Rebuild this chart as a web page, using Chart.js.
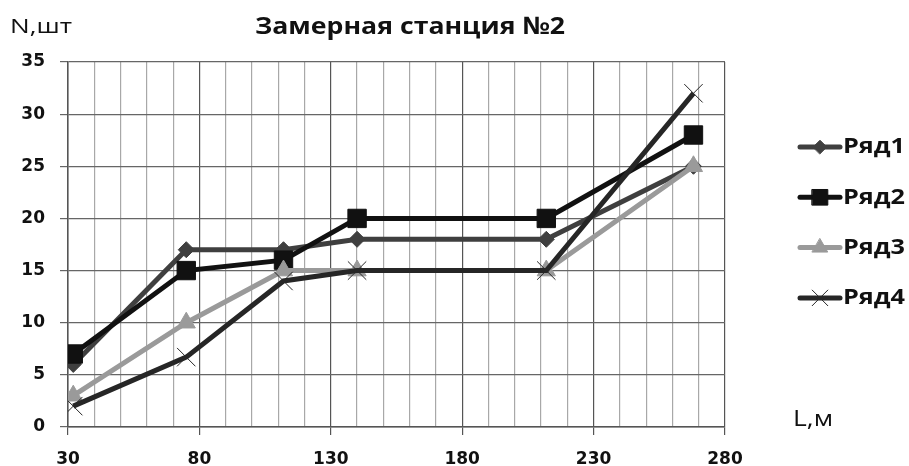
<!DOCTYPE html>
<html>
<head>
<meta charset="utf-8">
<script src="https://cdn.jsdelivr.net/npm/chart.js@4"></script>
<style>
  body { margin: 0; background: #fff; }
  #wrap { width: 909px; height: 466px; }
</style>
</head>
<body>
<div id="wrap"><canvas id="chart"></canvas></div>
<script>
const distances = [32, 75, 112, 140, 212, 268];
const row1 = [6, 17, 17, 18, 18, 25];
const row2 = [7, 15, 16, 20, 20, 28];
const row3 = [3, 10, 15, 15, 15, 25];
const row4 = [2, 6.7, 14, 15, 15, 32];
const seriesNames = ['Ряд1', 'Ряд2', 'Ряд3', 'Ряд4'];
const xTickLabels = [30, 80, 130, 180, 230, 280];
const yTickLabels = [0, 5, 10, 15, 20, 25, 30, 35];

const FONT = '"Open Sans", "Noto Sans", sans-serif';
const TICK_FONT = '"DejaVu Sans", sans-serif';

function pts(vals) {
    return vals.map((v, i) => ({ x: distances[i], y: v }));
}

const styles = [
    { color: '#3f3f3f', point: 'rectRot', radius: 8, pointBorder: 1 },
    { color: '#111111', point: 'rect', radius: 13, pointBorder: 1 },
    { color: '#9a9a9a', point: 'triangle', radius: 10.5, pointBorder: 1 },
    { color: '#262626', point: 'crossRot', radius: 13, pointBorder: 1 }
];

const allRows = [row1, row2, row3, row4];
const datasets = allRows.map((vals, i) => ({
    label: seriesNames[i],
    data: pts(vals),
    borderColor: styles[i].color,
    backgroundColor: styles[i].color,
    borderWidth: 5,
    pointStyle: styles[i].point,
    pointRadius: styles[i].radius,
    pointBorderWidth: styles[i].pointBorder,
    pointBorderColor: styles[i].color,
    pointBackgroundColor: styles[i].color,
    tension: 0,
    order: 4 - i
}));

// the scan is stretched sideways, so squeeze/stretch text to the width it has there
function fitText(ctx, text, x, y, width, align) {
    const w = ctx.measureText(text).width;
    const left = align === 'center' ? x - width / 2 : x;
    ctx.save();
    ctx.translate(left, y);
    ctx.scale(width / w, 1);
    ctx.textAlign = 'left';
    ctx.fillText(text, 0, 0);
    ctx.restore();
}

const extras = {
    id: 'extras',
    afterDraw(chart) {
        const ctx = chart.ctx;
        ctx.save();
        ctx.fillStyle = '#111';
        ctx.textBaseline = 'middle';

        ctx.font = 'bold 24px ' + FONT;
        fitText(ctx, 'Замерная станция №2', 410, 27, 310, 'center');

        ctx.font = '20px ' + FONT;
        fitText(ctx, 'N,шт', 10, 27, 62, 'left');

        ctx.font = '21px ' + FONT;
        fitText(ctx, 'L,м', 793, 420, 40, 'left');

        // legend: line sample with the marker on it
        ctx.font = 'bold 22px ' + FONT;
        chart.data.datasets.forEach((ds, i) => {
            const y = 147 + i * 50.3;
            ctx.strokeStyle = ds.borderColor;
            ctx.lineWidth = ds.borderWidth;
            ctx.lineCap = 'round';
            ctx.beginPath();
            ctx.moveTo(800, y);
            ctx.lineTo(840, y);
            ctx.stroke();
            ctx.fillStyle = ds.pointBackgroundColor;
            ctx.strokeStyle = ds.pointBorderColor;
            ctx.lineWidth = ds.pointBorderWidth;
            Chart.helpers.drawPoint(ctx, {
                pointStyle: ds.pointStyle,
                radius: ds.pointRadius * 0.85,
                borderWidth: ds.pointBorderWidth,
                rotation: 0
            }, 820, y);
            ctx.fillStyle = '#111';
            fitText(ctx, ds.label, 843, y, 62, 'left');
        });
        ctx.restore();
    }
};

const majorColor = '#555';
const minorColor = '#a8a8a8';

new Chart(document.getElementById('chart'), {
    type: 'line',
    data: { datasets },
    options: {
        responsive: true,
        maintainAspectRatio: false,
        animation: false,
        layout: { padding: { left: 0, right: 184, top: 62, bottom: 0 } },
        plugins: {
            legend: { display: false },
            tooltip: { enabled: false },
            title: { display: false }
        },
        scales: {
            x: {
                type: 'linear',
                min: 30,
                max: 280,
                ticks: {
                    stepSize: 10,
                    autoSkip: false,
                    maxRotation: 0,
                    padding: 14,
                    color: '#111',
                    font: { family: TICK_FONT, size: 17, weight: 'bold' },
                    callback: v => xTickLabels.includes(v) ? v : ''
                },
                grid: {
                    color: c => xTickLabels.includes(c.tick.value) ? majorColor : minorColor,
                    tickColor: c => xTickLabels.includes(c.tick.value) ? majorColor : 'rgba(0,0,0,0)',
                    tickLength: 8,
                    lineWidth: 1.2
                },
                border: { color: majorColor, width: 1.5 },
                afterFit: s => { s.height = 39; }
            },
            y: {
                min: 0,
                max: 35,
                ticks: {
                    stepSize: 5,
                    padding: 15,
                    color: '#111',
                    font: { family: TICK_FONT, size: 17, weight: 'bold' },
                    callback: v => yTickLabels.includes(v) ? v : ''
                },
                grid: {
                    color: '#666',
                    tickColor: '#666',
                    tickLength: 8,
                    lineWidth: 1.2
                },
                border: { color: majorColor, width: 1.5 },
                afterFit: s => { s.width = 68; }
            }
        }
    },
    plugins: [extras]
});
</script>
</body>
</html>
